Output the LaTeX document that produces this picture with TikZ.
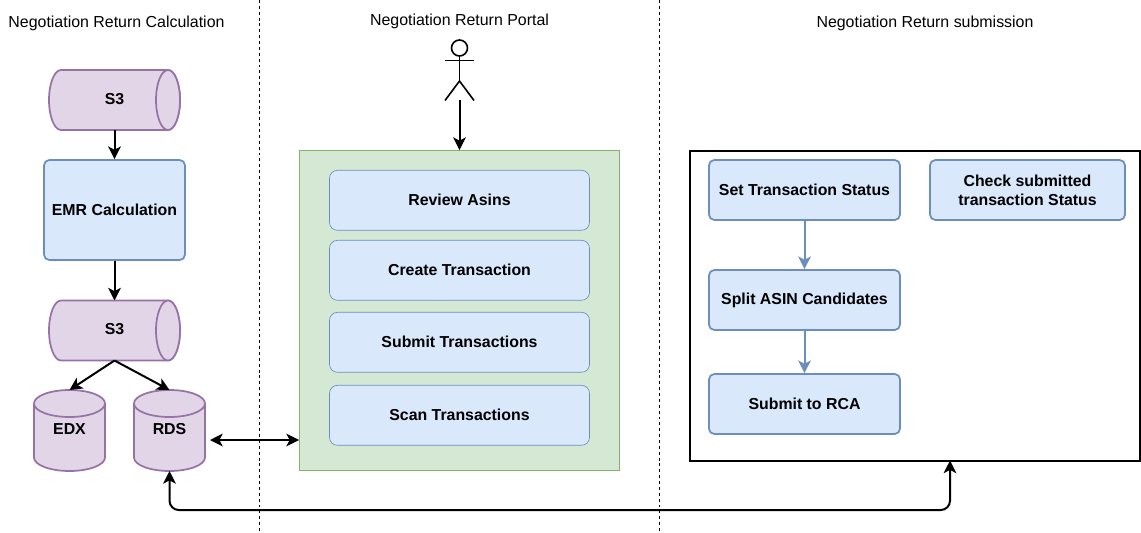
\documentclass[tikz,border=0pt]{standalone}
\usepackage{fontspec}
\setmainfont{Liberation Sans}
\usetikzlibrary{arrows.meta}
\definecolor{bluefill}{HTML}{DAE8FC}
\definecolor{blueline}{HTML}{6C8EBF}
\definecolor{purplefill}{HTML}{E1D5E7}
\definecolor{purpleline}{HTML}{9673A6}
\definecolor{greenfill}{HTML}{D5E8D4}
\definecolor{greenline}{HTML}{82B366}
\tikzset{
  px/.style={x=0.75pt,y=-0.75pt},
  blueline1/.style={draw=blueline,fill=bluefill,line width=1.3pt,rounded corners=4pt,inner sep=0pt,align=center,font=\fontsize{11.9pt}{14pt}\selectfont\bfseries},
  thinbox/.style={blueline1,line width=0.5pt,rounded corners=6pt},
  greenbox/.style={draw=greenline,fill=greenfill,line width=0.7pt,inner sep=0pt},
  framebox/.style={draw=black,line width=1.5pt,inner sep=0pt},
  shapeline/.style={draw=purpleline,fill=purplefill,line width=1.3pt},
  label/.style={inner sep=0pt,font=\fontsize{11.9pt}{14pt}\selectfont\bfseries},
  heading/.style={inner sep=0pt,font=\fontsize{11.95pt}{14pt}\selectfont},
  arrow/.style={draw=black,line width=1.5pt,-{Stealth[length=9.5pt,width=9.5pt,inset=2.5pt]}},
  bothway/.style={draw=black,line width=1.5pt,{Stealth[length=9.5pt,width=9.5pt,inset=2.5pt]}-{Stealth[length=9.5pt,width=9.5pt,inset=2.5pt]}},
  bluearrow/.style={draw=blueline,line width=1.5pt,-{Stealth[length=9.5pt,width=9.5pt,inset=2.5pt]}},
  divider/.style={draw=black,line width=0.7pt,dash pattern=on 2.2pt off 2.2pt},
  actorline/.style={draw=black,line width=1.2pt},
  box/.style args={#1/#2}{minimum width=#1*0.75pt,minimum height=#2*0.75pt,anchor=center},
}
% horizontal cylinder: left, top, right, bottom in px
\newcommand{\hcyl}[5]{%
  \path[shapeline] (#1+12,#2) -- (#3-12,#2) arc[start angle=-90,end angle=90,x radius=12,y radius=30]
    -- (#1+12,#4) arc[start angle=90,end angle=270,x radius=12,y radius=30] -- cycle;
  \path[shapeline] (#3-12,#2) arc[start angle=-90,end angle=270,x radius=12,y radius=30];
  \node[label] (#5) at ({(#1+#3)/2},{(#2+#4)/2-1}) {S3};
}
% vertical cylinder
\newcommand{\vcyl}[6]{%
  \path[shapeline] (#1,#2+13.5) arc[start angle=180,end angle=360,x radius=35.5,y radius=13.5]
    -- (#3,#4-13.5) arc[start angle=0,end angle=180,x radius=35.5,y radius=13.5] -- cycle;
  \path[shapeline] (#1,#2+13.5) arc[start angle=180,end angle=0,x radius=35.5,y radius=13.5];
  \coordinate (#5top) at ({(#1+#3)/2},#2);
  \coordinate (#5bot) at ({(#1+#3)/2},#4);
  \node[label] (#5) at ({(#1+#3)/2},429) {#6};
}
\begin{document}
\begin{tikzpicture}[px]
\useasboundingbox (0,0) rectangle (1141,532);
% headings
\node[heading] (h1) at (116.5,23) {Negotiation Return Calculation};
\node[heading] (h2) at (459.5,21) {Negotiation Return Portal};
\node[heading] (h3) at (925,23) {Negotiation Return submission};
% dividers
\coordinate (d1a) at (259.5,0); \coordinate (d1b) at (259.5,532);
\coordinate (d2a) at (659.5,0); \coordinate (d2b) at (659.5,532);
\draw[divider] (d1a) -- (d1b);
\draw[divider] (d2a) -- (d2b);
% left column
\hcyl{49}{70}{180}{130}{sa}
\hcyl{49}{300.5}{180}{360.5}{sb}
\coordinate (satop) at (114.5,130);
\coordinate (sbtop) at (114.5,300.5);
\coordinate (sbbot) at (114.5,360.5);
\node[blueline1,box=141/100] (emr) at (114.5,210) {EMR Calculation};
\vcyl{34}{390}{105}{471}{edx}{EDX}
\vcyl{134}{390}{205}{471}{rds}{RDS}
\draw[arrow] (satop) -- (emr.north);
\draw[arrow] (emr.south) -- (sbtop);
\draw[arrow] (sbbot) -- (edxtop);
\draw[arrow] (sbbot) -- (rdstop);
% portal
\node[greenbox,box=320/320] (portal) at (459.5,310.5) {};
\node[thinbox,box=260/60] (b1) at (459.5,200.3) {Review Asins};
\node[thinbox,box=260/60] (b2) at (459.5,270.3) {Create Transaction};
\node[thinbox,box=260/60] (b3) at (459.5,342.3) {Submit Transactions};
\node[thinbox,box=260/60] (b4) at (459.5,415.3) {Scan Transactions};
% actor
\node[draw=black,line width=1.2pt,circle,minimum size=12pt,inner sep=0pt] (head) at (459.5,48) {};
\coordinate (hip) at (459.5,81);
\coordinate (armL) at (445,60.5); \coordinate (armR) at (474,60.5);
\coordinate (legL) at (445,100.5); \coordinate (legR) at (474,100.5);
\coordinate (feet) at (459.5,100);
\draw[actorline] (head.south) -- (hip);
\draw[actorline] (armL) -- (armR);
\draw[actorline] (legL) -- (hip) -- (legR);
\draw[arrow] (feet) -- (portal.north);
% submission
\node[framebox,box=450/310] (sub) at (914.5,305.5) {};
\node[blueline1,box=191/60] (r1) at (804.5,190) {Set Transaction Status};
\node[blueline1,box=191/60] (r2) at (804.5,300) {Split ASIN Candidates};
\node[blueline1,box=191/60] (r3) at (804.5,404) {Submit to RCA};
\node[blueline1,box=195/60] (r4) at (1027.5,190) {Check submitted\\transaction Status};
\draw[bluearrow] (r1) -- (r2);
\draw[bluearrow] (r2) -- (r3);
% links
\coordinate (rdsR) at (210,440);
\draw[bothway] (rdsR) -- (portal.west |- rdsR);
\coordinate (subBot) at (950,460.5);
\draw[bothway,rounded corners=7pt] (rdsbot) -- (rdsbot |- 0,510) -- (subBot |- 0,510) -- (subBot);
\end{tikzpicture}
\end{document}
